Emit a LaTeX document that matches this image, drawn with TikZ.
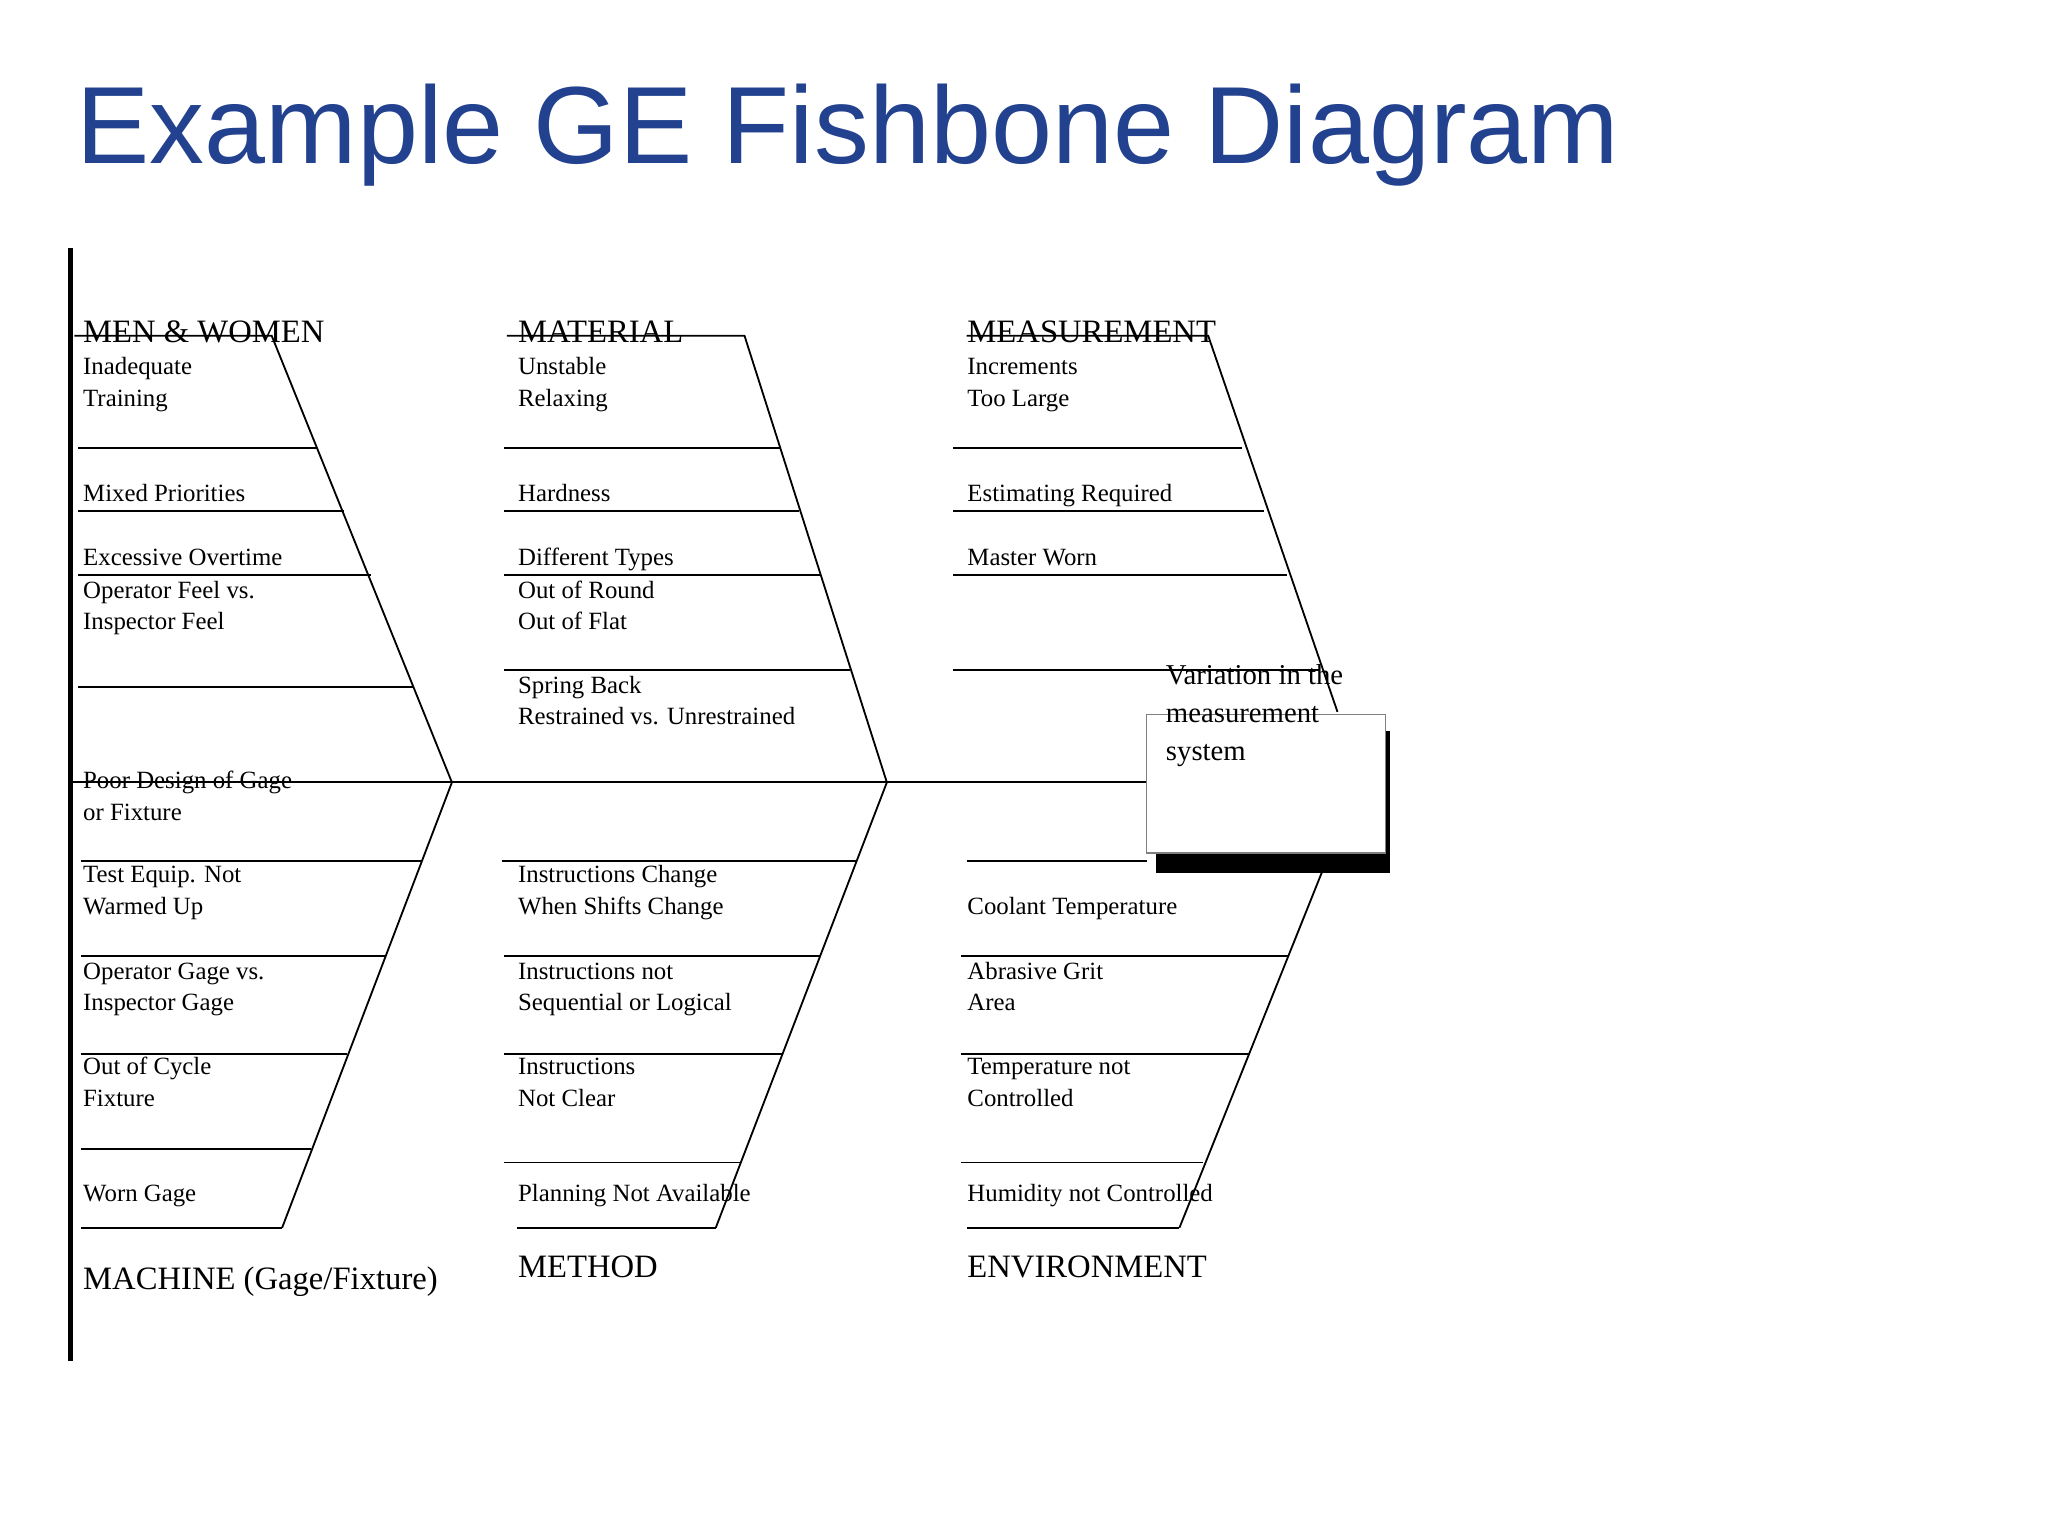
\documentclass[tikz,border=0pt]{standalone}
\usepackage{fontspec}
\setmainfont{Liberation Serif}
\newfontfamily\titlefont{Liberation Sans}
\definecolor{ttl}{RGB}{34,65,143}
\begin{document}
\begin{tikzpicture}[x=1pt,y=-1pt,line width=1.4pt,
  lbl/.style={anchor=base west,inner sep=0pt,font=\fontsize{19}{24}\selectfont,align=left},
  cat/.style={anchor=base west,inner sep=0pt,font=\fontsize{25}{30}\selectfont}]
\useasboundingbox[fill=white] (0,0) rectangle (1568,1176);
\node[anchor=base west,inner sep=0pt,text=ttl,font=\titlefont\fontsize{84}{90}\selectfont] (title) at (58,125) {Example GE Fishbone Diagram};
% back vertical
\draw[line width=4.5pt] (54,190) -- (54,1042);
% spine
\coordinate (s0) at (54,599); \coordinate (s1) at (346,599); \coordinate (s2) at (679,599); \coordinate (s3) at (878,599);
\draw (s0) -- (s3);
% top diagonals
\draw (57,257) -- (208,257) -- (s1);
\draw (388,257) -- (570,257) -- (s2);
\draw (740,257) -- (925,257) -- (1024,545);
% bottom diagonals
\draw (s1) -- (216,940);
\draw (s2) -- (548,940);
\draw (1012,668) -- (903,940);
% top ribs
\foreach \y/\x in {343/243,391/263,440/284,526/316} \draw (60,\y) -- (\x,\y);
\foreach \y/\x in {343/597,391/612,440/628,513/651} \draw (386,\y) -- (\x,\y);
\foreach \y/\x in {343/951,391/968,440/985,513/1010} \draw (730,\y) -- (\x,\y);
% bottom ribs
\foreach \y/\x in {659/323,732/295,807/266,880/238,940/216} \draw (62,\y) -- (\x,\y);
\foreach \y/\x/\a in {659/656/384,732/628/386,807/599/386,890/567/386,940/548/396} \draw (\a,\y) -- (\x,\y);
\foreach \y/\x/\a in {659/878/740,732/986/736,807/957/736,890/921/736,940/903/740} \draw (\a,\y) -- (\x,\y);
% category labels
\node[cat] (c1) at (63,262) {MEN \& WOMEN};
\node[cat] (c2) at (396,262) {MATERIAL};
\node[cat] (c3) at (740,262) {MEASUREMENT};
\node[cat] (c4) at (63,987) {MACHINE (Gage/Fixture)};
\node[cat] (c5) at (396,978) {METHOD};
\node[cat] (c6) at (740,978) {ENVIRONMENT};
% men labels
\node[lbl] (m1) at (63,311) {Inadequate\\Training};
\node[lbl] (m2) at (63,384) {Mixed Priorities};
\node[lbl] (m3) at (63,433) {Excessive Overtime};
\node[lbl] (m4) at (63,482) {Operator Feel vs.\\Inspector Feel};
% material
\node[lbl] (t1) at (396,311) {Unstable\\Relaxing};
\node[lbl] (t2) at (396,384) {Hardness};
\node[lbl] (t3) at (396,433) {Different Types};
\node[lbl] (t4) at (396,482) {Out of Round\\Out of Flat};
\node[lbl] (t5) at (396,555) {Spring Back\\Restrained vs. Unrestrained};
% measurement
\node[lbl] (e1) at (740,311) {Increments\\Too Large};
\node[lbl] (e2) at (740,384) {Estimating Required};
\node[lbl] (e3) at (740,433) {Master Worn};
% machine
\node[lbl] (a1) at (63,628) {Poor Design of Gage\\or Fixture};
\node[lbl] (a2) at (63,700) {Test Equip. Not\\Warmed Up};
\node[lbl] (a3) at (63,774) {Operator Gage vs.\\Inspector Gage};
\node[lbl] (a4) at (63,847) {Out of Cycle\\Fixture};
\node[lbl] (a5) at (63,920) {Worn Gage};
% method
\node[lbl] (h1) at (396,700) {Instructions Change\\When Shifts Change};
\node[lbl] (h2) at (396,774) {Instructions not\\Sequential or Logical};
\node[lbl] (h3) at (396,847) {Instructions\\Not Clear};
\node[lbl] (h4) at (396,920) {Planning Not Available};
% environment
\node[lbl] (v1) at (740,700) {Coolant Temperature};
\node[lbl] (v2) at (740,774) {Abrasive Grit\\Area};
\node[lbl] (v3) at (740,847) {Temperature not\\Controlled};
\node[lbl] (v4) at (740,920) {Humidity not Controlled};
% effect box
\fill (885,560) rectangle (1064,668);
\draw[line width=1pt,draw=gray,fill=white] (878,547) rectangle (1061,653);
\node[anchor=base west,inner sep=0pt,align=left,font=\fontsize{22}{29}\selectfont] (eff) at (892,582) {Variation in the\\measurement\\system};
\end{tikzpicture}
\end{document}
